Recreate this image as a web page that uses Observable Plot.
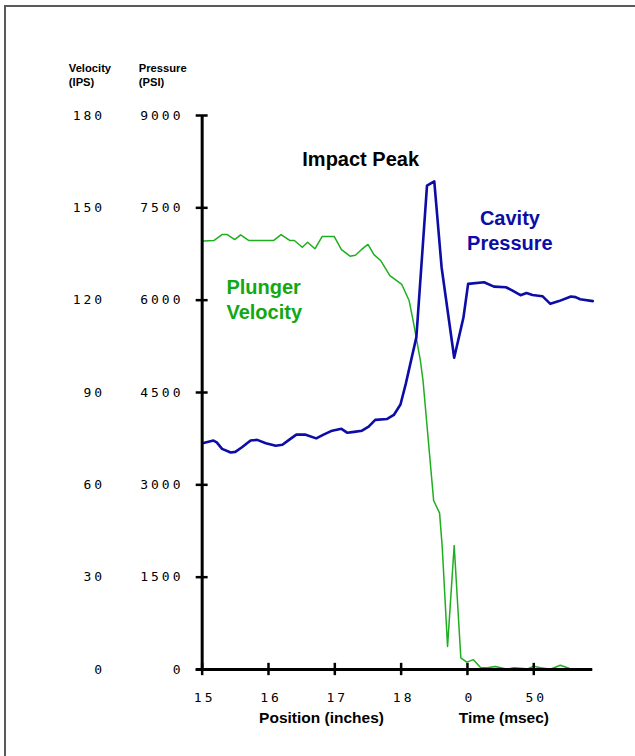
<!DOCTYPE html>
<html>
<head>
<meta charset="utf-8">
<script src="https://cdn.jsdelivr.net/npm/d3@7"></script>
<script src="https://cdn.jsdelivr.net/npm/@observablehq/plot@0.6"></script>
<style>
  html, body { margin: 0; padding: 0; background: #fff; }
  #wrap { position: relative; width: 635px; height: 756px; overflow: hidden; }
  #frame { position: absolute; left: 4px; top: 5px; width: 700px; height: 800px;
           border-left: 2px solid #5a5a5a; border-top: 2px solid #5a5a5a; box-sizing: border-box; }
  #chart { position: absolute; left: 0; top: 0; }
</style>
</head>
<body>
<div id="wrap"><div id="frame"></div><div id="chart"></div></div>
<script>
// Combined horizontal axis: units 15..19 are plunger position (inches);
// beyond 19 the axis is time (msec), t = (unit - 19) * 50.
const xTickPos = [15, 16, 17, 18, 19, 20];
const xTickLabels = ["15", "16", "17", "18", "0", "50"];
const pressureTicks = [0, 1500, 3000, 4500, 6000, 7500, 9000];
const velocityTicks = [0, 30, 60, 90, 120, 150, 180];
const pressureMax = 9000, velocityMax = 180;

// Cavity pressure (PSI)
const pressureX = [15.02,15.17,15.22,15.30,15.43,15.50,15.60,15.73,15.83,15.96,16.11,16.21,16.31,16.42,16.56,16.72,16.83,16.96,17.10,17.19,17.29,17.41,17.51,17.61,17.79,17.89,17.99,18.07,18.23,18.39,18.50,18.61,18.80,18.94,19.01,19.25,19.40,19.58,19.68,19.80,19.89,19.98,20.13,20.25,20.38,20.56,20.63,20.70,20.89];
const pressurePSI = [3680,3720,3690,3585,3525,3535,3610,3720,3730,3675,3635,3650,3730,3815,3815,3755,3815,3880,3910,3845,3860,3880,3945,4055,4070,4135,4305,4640,5400,7860,7930,6535,5065,5720,6265,6290,6220,6210,6155,6080,6115,6085,6065,5940,5985,6060,6050,6015,5985];

// Plunger velocity (IPS)
const velocityX = [15.02,15.18,15.30,15.38,15.49,15.58,15.70,15.88,16.08,16.19,16.32,16.39,16.51,16.59,16.70,16.81,16.99,17.10,17.23,17.31,17.40,17.50,17.59,17.69,17.83,18.01,18.12,18.19,18.29,18.33,18.49,18.58,18.62,18.70,18.80,18.90,18.99,19.09,19.20,19.30,19.42,19.60,19.70,19.85,19.90,20.00,20.10,20.25,20.40,20.54];
const velocityIPS = [139.2,139.4,141.3,141.3,139.7,141.2,139.4,139.4,139.4,141.3,139.4,139.4,137.2,138.8,136.7,140.7,140.7,136.4,134.3,134.6,136.4,138.1,134.8,132.9,128.0,125.1,119.9,112.3,100.4,93.9,54.9,50.8,39.7,7.5,40.3,3.8,2.4,3.2,0.6,0.6,1.0,0.1,0.6,0.3,0.1,1.1,0.6,0.1,1.4,0.3];

const k = pressureMax / velocityMax;
const pressureData = pressureX.map((x, i) => ({x, p: pressurePSI[i]}));
const velocityData = velocityX.map((x, i) => ({x, v: velocityIPS[i]}));

const BLUE = "#0c0ca6", GREEN = "#1eae1e";
const sans = "Liberation Sans, Arial, sans-serif";
const mono = "DejaVu Sans Mono, monospace";

const chart = Plot.plot({
  width: 635,
  height: 756,
  marginLeft: 195.7,
  marginRight: 42.7,
  marginTop: 115,
  marginBottom: 87,
  x: {domain: [14.91, 20.89], axis: null},
  y: {domain: [0, pressureMax], axis: null},
  style: {background: "transparent", overflow: "visible"},
  marks: [
    // data lines
    Plot.line(velocityData, {x: "x", y: d => d.v * k, stroke: GREEN, strokeWidth: 1.5}),
    Plot.line(pressureData, {x: "x", y: "p", stroke: BLUE, strokeWidth: 2.6}),
    // axes
    Plot.ruleY([0], {stroke: "#000", strokeWidth: 3}),
    Plot.ruleX([15], {y1: 0, y2: pressureMax, stroke: "#000", strokeWidth: 3}),
    Plot.ruleY(pressureTicks, {y: d => d, x1: 15 - 0.09, x2: 15 + 0.09, stroke: "#000", strokeWidth: 2.5}),
    Plot.ruleX(xTickPos, {x: d => d, y1: -100, y2: 100, stroke: "#000", strokeWidth: 2.5}),
    // tick labels
    Plot.text(pressureTicks, {x: 15, y: d => d, text: d => String(d), textAnchor: "end", dx: -18.7,
      fontFamily: mono, fontSize: 13, fill: "#000"}),
    Plot.text(velocityTicks, {x: 15, y: d => d * k, text: d => String(d), textAnchor: "end", dx: -97,
      fontFamily: mono, fontSize: 13, fill: "#000"}),
    Plot.text(xTickPos, {x: d => d, y: 0, text: (d, i) => xTickLabels[i], dx: 2.5, dy: 28.7,
      fontFamily: mono, fontSize: 13, fill: "#000"}),
    // axis titles
    Plot.text(["Position (inches)"], {x: 16.8, y: 0, text: d => d, dy: 49,
      fontFamily: sans, fontWeight: "bold", fontSize: 15.5, fill: "#000"}),
    Plot.text(["Time (msec)"], {x: 19.55, y: 0, text: d => d, dy: 49,
      fontFamily: sans, fontWeight: "bold", fontSize: 15.5, fill: "#000"}),
    Plot.text(["Velocity\n(IPS)"], {frameAnchor: "top-left", text: d => d, textAnchor: "start", lineAnchor: "middle",
      dx: -127.4, dy: -41, lineHeight: 1.2, fontFamily: sans, fontWeight: "bold", fontSize: 11.2, fill: "#000"}),
    Plot.text(["Pressure\n(PSI)"], {frameAnchor: "top-left", text: d => d, textAnchor: "start", lineAnchor: "middle",
      dx: -57.4, dy: -41, lineHeight: 1.2, fontFamily: sans, fontWeight: "bold", fontSize: 11.2, fill: "#000"}),
    // annotations
    Plot.text(["Impact Peak"], {x: 17.39, y: 8280, text: d => d,
      fontFamily: sans, fontWeight: "bold", fontSize: 20, fill: "#000"}),
    Plot.text(["Cavity\nPressure"], {x: 19.64, y: 7144, text: d => d, lineHeight: 1.25,
      fontFamily: sans, fontWeight: "bold", fontSize: 20, fill: BLUE}),
    Plot.text(["Plunger\nVelocity"], {x: 15.366, y: 6030, text: d => d, textAnchor: "start", lineAnchor: "middle", lineHeight: 1.25,
      fontFamily: sans, fontWeight: "bold", fontSize: 20, fill: "#11a811"})
  ]
});
// wider letter spacing for the monospace tick labels
d3.select(chart).selectAll("g").filter(function () {
  return this.getAttribute("font-family") === mono;
}).attr("letter-spacing", "3px");
document.getElementById("chart").appendChild(chart);
</script>
</body>
</html>
